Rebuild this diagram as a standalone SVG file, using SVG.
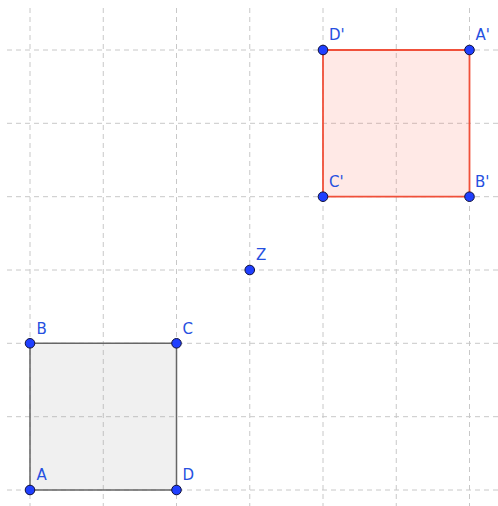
<svg xmlns="http://www.w3.org/2000/svg" width="498" height="506" viewBox="0 0 498 506">
<style>
.grid line{stroke:#c8c8c8;stroke-width:1;stroke-dasharray:5,4}
.pt{fill:#1f3fff;stroke:#10103a;stroke-width:1}
.lbl{font-family:"DejaVu Sans",sans-serif;font-size:15px;fill:#2650e0}
</style>
<rect width="498" height="506" fill="#ffffff"/>
<g class="grid" id="grid">
<line x1="30" y1="8" x2="30" y2="506"/>
<line x1="103.25" y1="8" x2="103.25" y2="506"/>
<line x1="176.5" y1="8" x2="176.5" y2="506"/>
<line x1="249.75" y1="8" x2="249.75" y2="506"/>
<line x1="323" y1="8" x2="323" y2="506"/>
<line x1="396.25" y1="8" x2="396.25" y2="506"/>
<line x1="469.5" y1="8" x2="469.5" y2="506"/>
<line x1="7" y1="50" x2="498" y2="50"/>
<line x1="7" y1="123.3" x2="498" y2="123.3"/>
<line x1="7" y1="196.7" x2="498" y2="196.7"/>
<line x1="7" y1="270" x2="498" y2="270"/>
<line x1="7" y1="343.3" x2="498" y2="343.3"/>
<line x1="7" y1="416.7" x2="498" y2="416.7"/>
<line x1="7" y1="490" x2="498" y2="490"/>
</g>
<g id="connectors">
<polygon points="30,490 30,343.3 176.5,343.3 176.5,490" fill="#999999" fill-opacity="0.15" stroke="#666666" stroke-width="1.5"/>
<polygon points="469.5,50 469.5,196.7 323,196.7 323,50" fill="#ff6a55" fill-opacity="0.15" stroke="#f0503a" stroke-width="1.8"/>
</g>
<g id="A"><circle class="pt" cx="30" cy="490" r="4.8"/><text class="lbl" x="36.5" y="480">A</text></g>
<g id="B"><circle class="pt" cx="30" cy="343.3" r="4.8"/><text class="lbl" x="36.5" y="334">B</text></g>
<g id="C"><circle class="pt" cx="176.5" cy="343.3" r="4.8"/><text class="lbl" x="182.5" y="334">C</text></g>
<g id="D"><circle class="pt" cx="176.5" cy="490" r="4.8"/><text class="lbl" x="182.5" y="480">D</text></g>
<g id="Z"><circle class="pt" cx="249.75" cy="270" r="4.8"/><text class="lbl" x="256" y="260">Z</text></g>
<g id="Ap"><circle class="pt" cx="469.5" cy="50" r="4.8"/><text class="lbl" x="475.5" y="40">A'</text></g>
<g id="Bp"><circle class="pt" cx="469.5" cy="196.7" r="4.8"/><text class="lbl" x="475" y="187">B'</text></g>
<g id="Cp"><circle class="pt" cx="323" cy="196.7" r="4.8"/><text class="lbl" x="329" y="187">C'</text></g>
<g id="Dp"><circle class="pt" cx="323" cy="50" r="4.8"/><text class="lbl" x="329" y="40">D'</text></g>
</svg>
